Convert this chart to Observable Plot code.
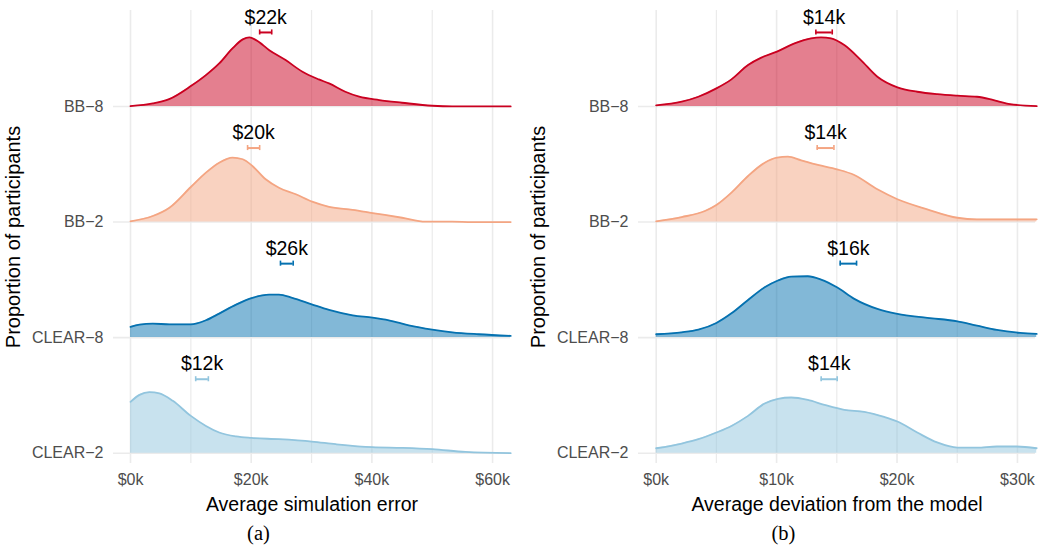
<!DOCTYPE html>
<html><head><meta charset="utf-8">
<script src="https://cdn.jsdelivr.net/npm/d3@7"></script>
<script src="https://cdn.jsdelivr.net/npm/@observablehq/plot@0.6"></script>
<style>
body{margin:0;background:#fff;}
#wrap{display:flex;width:1050px;}
.panel{width:525px;}
.cap{font-family:"Liberation Serif","DejaVu Serif",serif;font-size:20.5px;text-align:center;line-height:26px;height:27px;padding-right:8px;color:#000;}
</style></head>
<body>
<div id="wrap"><div class="panel" id="pa"></div><div class="panel" id="pb"></div></div>
<script>
// Groups (top to bottom) and colours
const groups = ["BB−8", "BB−2", "CLEAR−8", "CLEAR−2"];
const colors = ["#ca0020", "#f4a582", "#0571b0", "#92c5de"];
const offsets = [3, 2, 1, 0];

// ---- Panel (a): Average simulation error ($k) — density curves (relative height) ----
const aBB8x = [0, 3.7, 6.4, 10, 12.5, 14.7, 16.9, 18.6, 19.7, 20.8, 23.0, 25.7, 28.5, 31.2, 32.9, 35.6, 37.9, 41.2, 45, 50, 53.3, 63];
const aBB8d = [0.003, 0.026, 0.063, 0.176, 0.271, 0.372, 0.502, 0.580, 0.597, 0.574, 0.487, 0.401, 0.300, 0.234, 0.199, 0.127, 0.084, 0.055, 0.032, 0.006, 0, 0];
const aBB2x = [0, 3.69, 6.45, 10, 12.5, 14.7, 16.9, 18.6, 20.2, 22.4, 24.6, 27.4, 30.1, 32.9, 36.8, 40.1, 45, 48.9, 53.3, 56.6, 63];
const aBB2d = [0.006, 0.052, 0.124, 0.303, 0.427, 0.513, 0.557, 0.543, 0.485, 0.370, 0.297, 0.240, 0.176, 0.132, 0.106, 0.078, 0.037, 0.003, 0.003, 0, 0];
const aCL8x = [0, 1.49, 3.69, 6.45, 10, 12.5, 14.7, 17.5, 20.2, 22.97, 24.6, 26.8, 30.03, 32.9, 36.8, 40.1, 42.8, 46.1, 50.0, 53.3, 57.7, 63];
const aCL8d = [0.093, 0.113, 0.121, 0.115, 0.115, 0.150, 0.208, 0.286, 0.344, 0.372, 0.372, 0.344, 0.288, 0.240, 0.193, 0.173, 0.150, 0.106, 0.069, 0.046, 0.029, 0.015];
const aCL2x = [0, 1.49, 3.14, 4.79, 7.0, 10, 12.5, 14.7, 17.5, 20.05, 24.6, 30.03, 34.0, 40.05, 45.0, 50.0, 55.5, 63];
const aCL2d = [0.444, 0.505, 0.528, 0.517, 0.453, 0.323, 0.236, 0.179, 0.145, 0.132, 0.121, 0.101, 0.078, 0.052, 0.046, 0.035, 0.011, 0];
const aMean = [22.4, 20.4, 25.9, 11.85];
const aLo = [21.4, 19.4, 24.85, 10.8];
const aHi = [23.4, 21.4, 26.96, 12.9];

// ---- Panel (b): Average deviation from the model ($k) ----
const bBB8x = [0, 2.12, 3.5, 5.0, 6.25, 7.63, 8.73, 10.03, 11.49, 12.87, 13.69, 14.52, 15.62, 17.0, 18.37, 20.03, 21.68, 23.33, 25.01, 26.64, 28.02, 29.39, 31.6];
const bBB8d = [0.009, 0.041, 0.084, 0.156, 0.234, 0.358, 0.422, 0.474, 0.545, 0.589, 0.597, 0.589, 0.531, 0.401, 0.257, 0.165, 0.127, 0.106, 0.093, 0.084, 0.055, 0.020, 0.003];
const bBB2x = [0, 2.12, 4.05, 5.0, 6.25, 7.63, 9.01, 10.03, 10.94, 12.04, 13.42, 15.01, 16.45, 18.37, 20.03, 22.51, 25.01, 26.64, 31.6];
const bBB2d = [0.006, 0.043, 0.095, 0.147, 0.254, 0.398, 0.513, 0.557, 0.565, 0.534, 0.494, 0.456, 0.407, 0.283, 0.197, 0.110, 0.037, 0.023, 0.023];
const bCL8x = [0, 2.12, 3.5, 5.0, 6.25, 7.63, 9.01, 10.11, 11.21, 12.59, 13.69, 15.01, 16.45, 18.37, 20.03, 22.51, 25.01, 26.64, 28.29, 30.22, 31.6];
const bCL8d = [0.029, 0.046, 0.069, 0.127, 0.210, 0.326, 0.435, 0.494, 0.528, 0.531, 0.502, 0.435, 0.335, 0.248, 0.205, 0.171, 0.141, 0.104, 0.067, 0.041, 0.032];
const bCL2x = [0, 2.12, 3.5, 5.0, 6.25, 7.63, 9.01, 10.11, 11.21, 12.59, 13.97, 15.62, 17.27, 18.93, 20.03, 21.68, 23.33, 25.01, 26.64, 28.29, 29.94, 31.6];
const bCL2d = [0.043, 0.084, 0.121, 0.179, 0.236, 0.323, 0.430, 0.470, 0.482, 0.461, 0.418, 0.375, 0.358, 0.314, 0.274, 0.179, 0.093, 0.049, 0.049, 0.058, 0.058, 0.043];
const bMean = [13.94, 14.07, 15.96, 14.37];
const bLo = [13.26, 13.37, 15.28, 13.7];
const bHi = [14.62, 14.76, 16.64, 15.03];

const aTicks = [0, 20, 40, 60], aMinor = [10, 30, 50];
const bTicks = [0, 10, 20, 30], bMinor = [5, 15, 25];

function panel({xs, ds, mean, lo, hi, domain, ticks, minor, xlabel}) {
  const pts = [];
  groups.forEach((g, i) => xs[i].forEach((x, j) => pts.push({group: g, x, y1: offsets[i], y2: offsets[i] + ds[i][j]})));
  const bars = groups.map((g, i) => ({group: g, mean: mean[i], lo: lo[i], hi: hi[i], yb: offsets[i] + 0.64, yt: offsets[i] + 0.77}));
  const grid = "#ebebeb";
  return Plot.plot({
    width: 525, height: 520,
    marginTop: 10, marginBottom: 57, marginLeft: 113, marginRight: 15,
    style: {fontFamily: "'Liberation Sans', Arial, sans-serif", background: "#fff"},
    x: {domain},
    y: {domain: [-0.089, 3.83]},
    color: {domain: groups, range: colors},
    marks: [
      Plot.ruleX(minor, {stroke: grid, strokeWidth: 1.2}),
      Plot.ruleX(ticks, {stroke: grid, strokeWidth: 1.6}),
      Plot.ruleY(offsets, {stroke: grid, strokeWidth: 1.6}),
      Plot.areaY(pts, {x: "x", y1: "y1", y2: "y2", z: "group", fill: "group", fillOpacity: 0.5, curve: "monotone-x"}),
      Plot.line(pts, {x: "x", y: "y2", z: "group", stroke: "group", strokeWidth: 1.8, curve: "monotone-x"}),
      Plot.ruleY(bars, {x1: "lo", x2: "hi", y: "yb", stroke: "group", strokeWidth: 2}),
      Plot.ruleX(bars, {x: "lo", y1: d => d.yb - 0.022, y2: d => d.yb + 0.022, stroke: "group", strokeWidth: 1.6}),
      Plot.ruleX(bars, {x: "hi", y1: d => d.yb - 0.022, y2: d => d.yb + 0.022, stroke: "group", strokeWidth: 1.6}),
      Plot.text(bars, {x: "mean", y: "yt", text: d => `$${Math.round(d.mean)}k`, fontSize: 19.5, fill: "#000"}),
      Plot.axisX({ticks, tickFormat: d => `$${d}k`, tickSize: 0, tickPadding: 10, fontSize: 16, fill: "#4d4d4d", label: null}),
      Plot.axisY({ticks: offsets, tickFormat: v => groups[3 - v], tickSize: 0, tickPadding: 10, fontSize: 16, fill: "#4d4d4d", label: null}),
      Plot.text([xlabel], {text: d => d, frameAnchor: "bottom", lineAnchor: "middle", textAnchor: "middle", dy: 41, fontSize: 19.5, fill: "#000"}),
      Plot.text(["Proportion of participants"], {text: d => d, frameAnchor: "left", lineAnchor: "middle", textAnchor: "middle", dx: -99.6, rotate: -90, fontSize: 20, fill: "#000"})
    ]
  });
}

function mount(id, chart, cap) {
  const el = document.getElementById(id);
  el.appendChild(chart);
  const c = document.createElement("div");
  c.className = "cap"; c.textContent = cap;
  el.appendChild(c);
}

mount("pa", panel({
  xs: [aBB8x, aBB2x, aCL8x, aCL2x], ds: [aBB8d, aBB2d, aCL8d, aCL2d],
  mean: aMean, lo: aLo, hi: aHi, domain: [-2.82, 62.97], ticks: aTicks, minor: aMinor,
  xlabel: "Average simulation error"
}), "(a)");
mount("pb", panel({
  xs: [bBB8x, bBB2x, bCL8x, bCL2x], ds: [bBB8d, bBB2d, bCL8d, bCL2d],
  mean: bMean, lo: bLo, hi: bHi, domain: [-1.47, 31.5], ticks: bTicks, minor: bMinor,
  xlabel: "Average deviation from the model"
}), "(b)");
</script>
</body></html>
